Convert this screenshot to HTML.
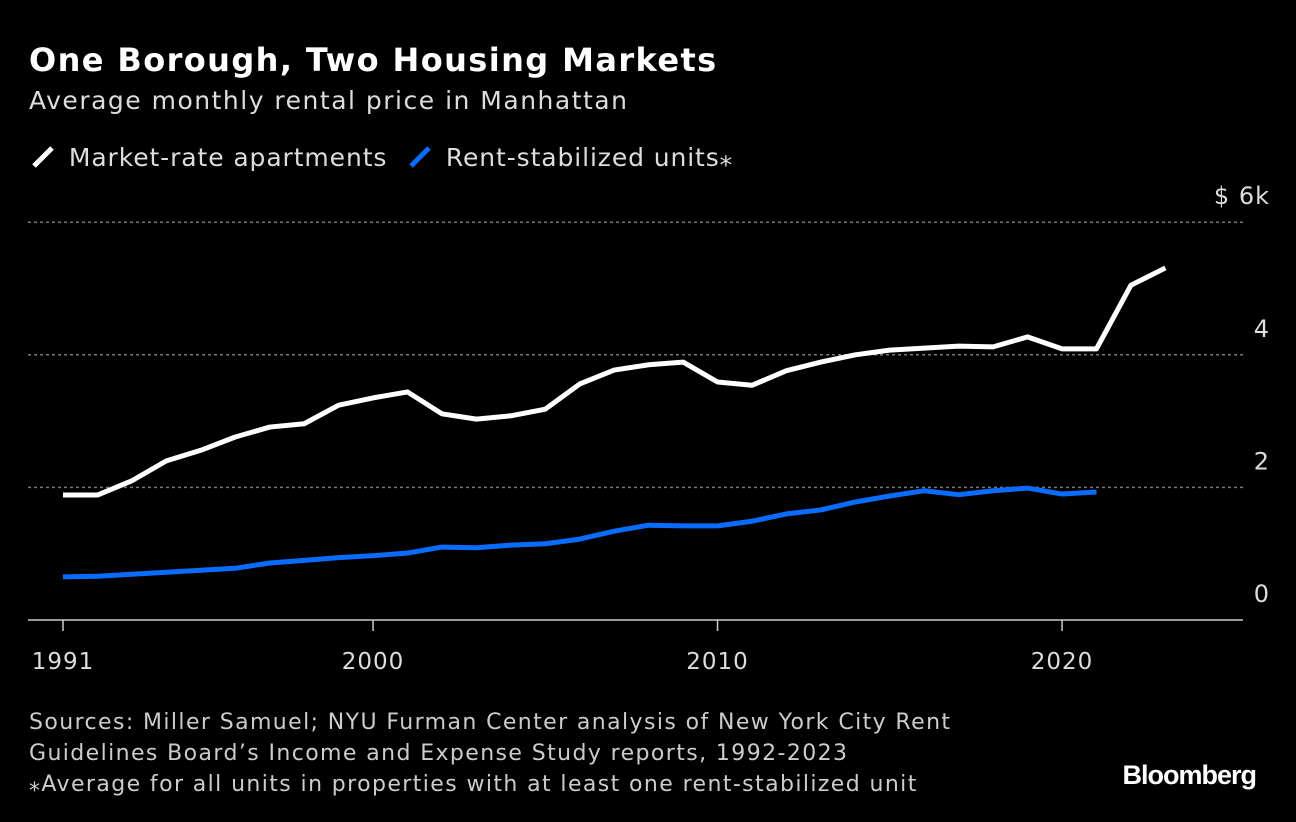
<!DOCTYPE html>
<html><head><meta charset="utf-8"><style>
body{margin:0;background:#000;width:1296px;height:822px;overflow:hidden;font-family:"DejaVu Sans",sans-serif;color:#fff}
.t{position:absolute;left:29px;top:41px;font-size:32px;font-weight:bold;letter-spacing:1.4px}
.s{position:absolute;left:29px;top:86px;font-size:25px;color:#ddd;letter-spacing:1.5px}
.lg{position:absolute;top:142px;font-size:25px;color:#ddd;letter-spacing:0.9px}
.src{position:absolute;left:29px;top:707px;font-size:22px;color:#ccc;line-height:31px;letter-spacing:1.4px}
.bb{position:absolute;right:40px;top:760px;font-size:27px;font-weight:bold;letter-spacing:-1px;font-family:"Liberation Sans",sans-serif}
</style></head><body>
<div class="t">One Borough, Two Housing Markets</div>
<div class="s">Average monthly rental price in Manhattan</div>
<div class="lg" style="left:30px"><svg width="30" height="28" style="vertical-align:-4px"><line x1="4" y1="24" x2="22" y2="6" stroke="#fff" stroke-width="5"/></svg> Market-rate apartments</div>
<div class="lg" style="left:407px"><svg width="30" height="28" style="vertical-align:-4px"><line x1="4" y1="24" x2="22" y2="6" stroke="#0a6cff" stroke-width="5"/></svg> Rent-stabilized units⁎</div>
<svg id="c" width="1296" height="822" style="position:absolute;left:0;top:0"></svg>
<div class="src">Sources: Miller Samuel; NYU Furman Center analysis of New York City Rent<br>Guidelines Board’s Income and Expense Study reports, 1992-2023<br>⁎Average for all units in properties with at least one rent-stabilized unit</div>
<div class="bb">Bloomberg</div>
<script>
const years=[1991,1992,1993,1994,1995,1996,1997,1998,1999,2000,2001,2002,2003,2004,2005,2006,2007,2008,2009,2010,2011,2012,2013,2014,2015,2016,2017,2018,2019,2020,2021,2022,2023];
const marketRate=[1.885,1.885,2.10,2.40,2.56,2.76,2.91,2.96,3.24,3.35,3.44,3.11,3.03,3.08,3.18,3.56,3.77,3.85,3.89,3.59,3.54,3.76,3.89,4.00,4.07,4.10,4.13,4.12,4.27,4.09,4.09,5.05,5.31];
const rentStabilized=[0.65,0.66,0.69,0.72,0.75,0.78,0.86,0.90,0.94,0.97,1.01,1.10,1.09,1.13,1.15,1.22,1.34,1.43,1.42,1.42,1.49,1.60,1.66,1.78,1.87,1.95,1.89,1.95,1.99,1.90,1.93];
const yTicks=[0,2,4,6];
const yTickLabels=["0","2","4","$ 6k"];
const xTicks=[1991,2000,2010,2020];
const X=y=>63+(y-1991)*34.45;
const Y=v=>620-v*66.3;
const svg=document.getElementById('c');
const NS='http://www.w3.org/2000/svg';
function mk(t,a){const e=document.createElementNS(NS,t);for(const k in a)e.setAttribute(k,a[k]);svg.appendChild(e);return e;}
yTicks.forEach((v,i)=>{
 if(v>0){const g=mk('line',{x1:28,x2:1243,y1:Y(v),y2:Y(v),stroke:'#777','stroke-width':1.5,'stroke-dasharray':'3,3'});
 
 }
 const t=mk('text',{x:1270,y:Y(v)-18,'text-anchor':'end','font-size':24,fill:'#ddd','font-family':'DejaVu Sans','letter-spacing':'1px'});
 t.textContent=yTickLabels[i];
 
 
});
const ax=mk('line',{x1:28,x2:1243,y1:620,y2:620,stroke:'#ccc','stroke-width':1.5});


xTicks.forEach(y=>{
 const l=mk('line',{x1:X(y),x2:X(y),y1:620,y2:631,stroke:'#ccc','stroke-width':1.5});
 
 
 const t=mk('text',{x:X(y),y:669,'text-anchor':'middle','font-size':23,fill:'#ddd','font-family':'DejaVu Sans','letter-spacing':'1px'});
 t.textContent=y;
 
 
});
function line(vals,col,name){
 const d=vals.map((v,i)=>(i?'L':'M')+X(years[i])+','+Y(v)).join(' ');
 const p=mk('path',{d:d,fill:'none',stroke:col,'stroke-width':5,'stroke-linejoin':'round'});
 
 
}
line(marketRate,'#fff','market-rate-line');
line(rentStabilized,'#0a6cff','rent-stabilized-line');
</script>
</body></html>
